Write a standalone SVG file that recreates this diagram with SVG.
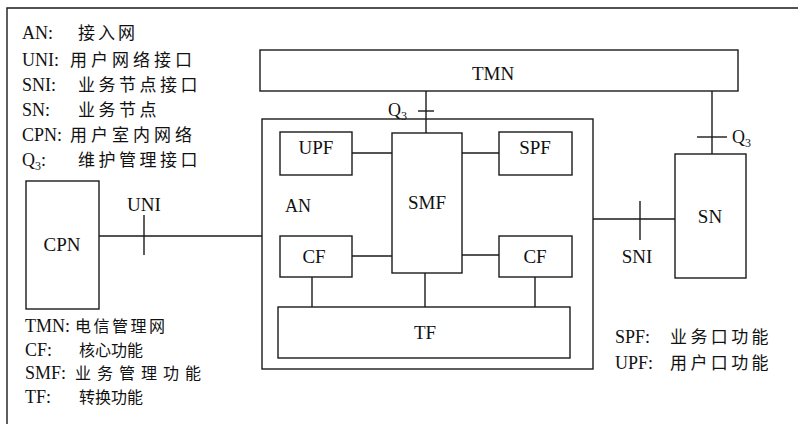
<svg xmlns="http://www.w3.org/2000/svg" width="798" height="424" viewBox="0 0 798 424">
<style>
.b{fill:#fff;stroke:#1a1a1a;stroke-width:1.4}
.f{fill:none;stroke:#1a1a1a;stroke-width:1.4}
.l{fill:none;stroke:#1a1a1a;stroke-width:1.4}
text{font-family:"Liberation Serif","Noto Sans CJK SC",serif;fill:#111}
.n{font-size:19px;text-anchor:middle}
.lg{font-size:18px}
.cn{font-size:17px;font-family:"Noto Sans CJK SC","Liberation Serif",sans-serif}
.cs{font-size:16px}
</style>
<rect width="798" height="424" fill="#fff"/>
<g id="frame"><path class="l" d="M7,424 V8 H798"/></g>
<g id="legend-top">
<text class="lg" x="22" y="39">AN:</text><text class="cn" x="78" y="39" letter-spacing="3">接入网</text>
<text class="lg" x="22" y="66">UNI:</text><text class="cn" x="70" y="66" letter-spacing="4">用户网络接口</text>
<text class="lg" x="22" y="91">SNI:</text><text class="cn" x="78" y="91" letter-spacing="3.5">业务节点接口</text>
<text class="lg" x="22" y="116">SN:</text><text class="cn" x="78" y="116" letter-spacing="3.5">业务节点</text>
<text class="lg" x="22" y="141">CPN:</text><text class="cn" x="70" y="141" letter-spacing="4">用户室内网络</text>
<text class="lg" x="22" y="166">Q<tspan font-size="12" dy="4">3</tspan><tspan dy="-4">:</tspan></text><text class="cn" x="78" y="166" letter-spacing="3.5">维护管理接口</text>
</g>
<g id="legend-bottom">
<text class="lg" x="25" y="332">TMN:</text><text class="cn cs" x="75" y="332" letter-spacing="2.5">电信管理网</text>
<text class="lg" x="25" y="355.5">CF:</text><text class="cn cs" x="79" y="355.5">核心功能</text>
<text class="lg" x="25" y="379">SMF:</text><text class="cn cs" x="75" y="379" letter-spacing="6">业务管理功能</text>
<text class="lg" x="25" y="402.5">TF:</text><text class="cn cs" x="79" y="402.5">转换功能</text>
</g>
<g id="legend-right">
<text class="lg" x="615" y="343">SPF:</text><text class="cn" x="670" y="343" letter-spacing="3.4">业务口功能</text>
<text class="lg" x="615" y="369">UPF:</text><text class="cn" x="670" y="369" letter-spacing="3.4">用户口功能</text>
</g>
<g id="connectors">
<path class="l" d="M426,91 V133"/>
<path class="l" d="M418,111 H434"/>
<path class="l" d="M712,91 V154"/>
<path class="l" d="M697,137 H727"/>
<path class="l" d="M99,236 H262"/>
<path class="l" d="M144,215 V255"/>
<path class="l" d="M593,219 H675"/>
<path class="l" d="M640,201 V240"/>
<path class="l" d="M352,153 H392"/>
<path class="l" d="M462,153 H499"/>
<path class="l" d="M352,256 H392"/>
<path class="l" d="M462,255 H499"/>
<path class="l" d="M312,277 V307"/>
<path class="l" d="M425,273 V307"/>
<path class="l" d="M535,277 V307"/>
</g>
<g id="labels">
<text class="lg" x="388" y="116">Q<tspan font-size="12" dy="4">3</tspan></text>
<text class="lg" x="732" y="143">Q<tspan font-size="12" dy="4">3</tspan></text>
<text class="n" x="144" y="211">UNI</text>
<text class="n" x="637" y="263">SNI</text>
</g>
<g id="TMN"><rect class="b" x="260" y="50" width="478" height="41"/><text class="n" x="493" y="80">TMN</text></g>
<g id="AN"><rect class="f" x="262" y="119" width="331" height="250"/><text class="lg" x="285" y="212">AN</text></g>
<g id="UPF"><rect class="b" x="280" y="132" width="72" height="43"/><text class="n" x="316" y="154">UPF</text></g>
<g id="SMF"><rect class="b" x="392" y="133" width="70" height="140"/><text class="n" x="427" y="209">SMF</text></g>
<g id="SPF"><rect class="b" x="499" y="132" width="73" height="43"/><text class="n" x="535" y="154">SPF</text></g>
<g id="CF1"><rect class="b" x="280" y="236" width="72" height="41"/><text class="n" x="314" y="263">CF</text></g>
<g id="CF2"><rect class="b" x="499" y="236" width="73" height="41"/><text class="n" x="535" y="263">CF</text></g>
<g id="TF"><rect class="b" x="278" y="307" width="292" height="51"/><text class="n" x="425" y="339">TF</text></g>
<g id="CPN"><rect class="b" x="26" y="181" width="73" height="128"/><text class="n" x="62" y="251">CPN</text></g>
<g id="SN"><rect class="b" x="675" y="154" width="71" height="124"/><text class="n" x="710" y="223">SN</text></g>
</svg>
